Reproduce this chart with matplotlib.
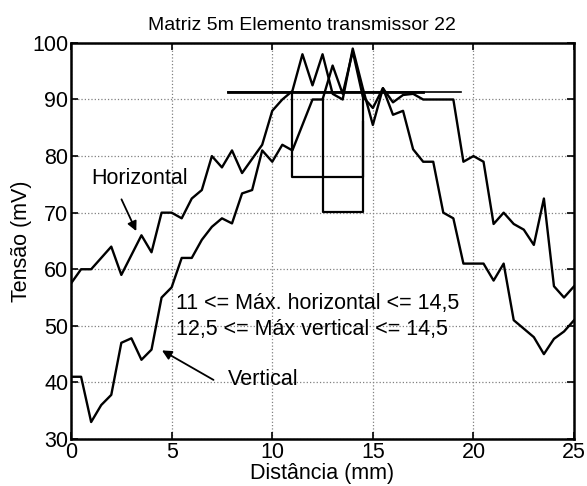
import numpy as np
import matplotlib.pyplot as plt

plt.rcParams['font.family'] = ['Liberation Sans', 'DejaVu Sans']

# amostras a cada 0,5 mm
distancia = np.arange(0, 25.5, 0.5)

horizontal = [57.5, 60, 60, 62, 64, 59, 62.5, 66, 63, 70,
              70, 69, 72.5, 74, 80, 78, 81, 77, 79.5, 82,
              88, 90, 91.5, 98, 92.5, 98, 91, 90, 99, 92,
              85.5, 92, 87.3, 88, 81.2, 79, 79, 70, 69, 61,
              61, 61, 58, 61, 51, 49.5, 48, 45, 47.7, 49, 51]

vertical = [41, 41, 33, 36, 37.8, 47, 47.8, 44, 45.8, 55,
            56.8, 62, 62, 65.2, 67.5, 69, 68.1, 73.4, 74, 81,
            79, 82, 81, 85.5, 90, 90, 96, 91, 98.5, 90.5,
            88.5, 92, 89.5, 90.8, 91, 90, 90, 90, 90, 79,
            80, 79, 68, 70, 68, 67, 64.3, 72.5, 57, 55, 57]

# nivel de referencia e faixas dos maximos
nivel_ref = 91.3
ref_x_curta = [7.8, 17.5]
ref_x_longa = [7.8, 19.4]
faixa_h = [11, 14.5]
base_h = 76.3
faixa_v = [12.5, 14.5]
topo_v = 90
base_v = 70.2
lado_v = 86

fig = plt.figure(figsize=(5.87, 4.86), dpi=100)
ax = fig.add_axes([0.121, 0.0967, 0.857, 0.815])

ax.plot(distancia, horizontal, color='black', lw=1.7)
ax.plot(distancia, vertical, color='black', lw=1.7)

ax.plot(ref_x_curta, [nivel_ref, nivel_ref], color='black', lw=2.0)
ax.plot(ref_x_longa, [nivel_ref, nivel_ref], color='black', lw=1.2)

# faixa do maximo horizontal
ax.plot([faixa_h[0], faixa_h[0], faixa_h[1], faixa_h[1]],
        [nivel_ref, base_h, base_h, nivel_ref], color='black', lw=1.6)
# faixa do maximo vertical
ax.plot([faixa_v[0], faixa_v[0], faixa_v[1], faixa_v[1]],
        [topo_v, base_v, base_v, lado_v], color='black', lw=1.6)

fs = 15.5
ax.text(1.0, 76, 'Horizontal', fontsize=fs, va='center', ha='left')
ax.annotate('', xy=(3.3, 66.3), xytext=(2.45, 72.8),
            arrowprops=dict(arrowstyle='-|>', color='black', lw=1.3,
                            mutation_scale=14))
ax.text(7.8, 40.6, 'Vertical', fontsize=fs, va='center', ha='left')
ax.annotate('', xy=(4.4, 45.9), xytext=(7.2, 40.2),
            arrowprops=dict(arrowstyle='-|>', color='black', lw=1.3,
                            mutation_scale=14))

ax.text(5.2, 54, '11 <= Máx. horizontal <= 14,5', fontsize=fs,
        va='center', ha='left')
ax.text(5.2, 49.4, '12,5 <= Máx vertical <= 14,5', fontsize=fs,
        va='center', ha='left')

ax.set_xlim(0, 25)
ax.set_ylim(30, 100)
ax.set_xticks([0, 5, 10, 15, 20, 25])
ax.set_yticks([30, 40, 50, 60, 70, 80, 90, 100])
ax.tick_params(direction='in', top=True, right=True, length=5, width=1.2,
               labelsize=15.5, pad=2)
ax.grid(True, linestyle=':', color='gray', lw=0.9)
for s in ax.spines.values():
    s.set_linewidth(1.8)

ax.set_title('Matriz 5m Elemento transmissor 22', fontsize=14, pad=9, x=0.46)
ax.set_xlabel('Distância (mm)', fontsize=15.5, labelpad=0)
ax.set_ylabel('Tensão (mV)', fontsize=15.5, labelpad=0)

fig.savefig('out.png', dpi=100)
